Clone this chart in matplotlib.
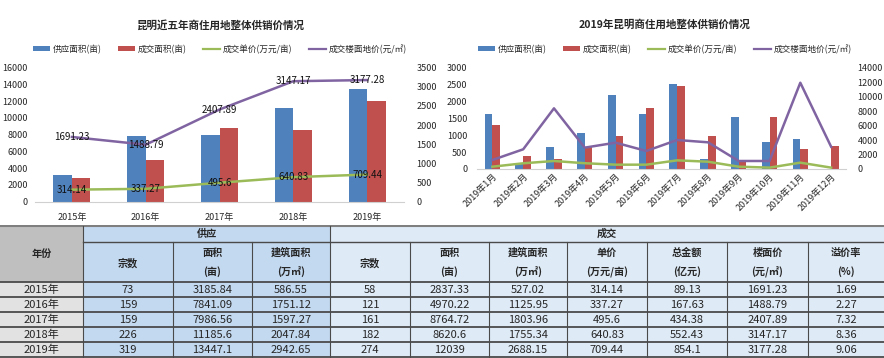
import numpy as np
import matplotlib
matplotlib.use("Agg")
import matplotlib.pyplot as plt
from matplotlib.patches import Rectangle, Patch
from matplotlib.lines import Line2D

plt.rcParams['font.family'] = ['Noto Sans CJK SC', 'DejaVu Sans']

# ---------------- data ----------------
years = ['2015年', '2016年', '2017年', '2018年', '2019年']
supply_count = [73, 159, 159, 226, 319]
supply_area = [3185.84, 7841.09, 7986.56, 11185.6, 13447.1]
supply_build = [586.55, 1751.12, 1597.27, 2047.84, 2942.65]
deal_count = [58, 121, 161, 182, 274]
deal_area = [2837.33, 4970.22, 8764.72, 8620.6, 12039]
deal_build = [527.02, 1125.95, 1803.96, 1755.34, 2688.15]
unit_price = [314.14, 337.27, 495.6, 640.83, 709.44]
total_amount = [89.13, 167.63, 434.38, 552.43, 854.1]
floor_price = [1691.23, 1488.79, 2407.89, 3147.17, 3177.28]
premium_rate = [1.69, 2.27, 7.32, 8.36, 9.06]

months = ['2019年%d月' % m for m in range(1, 13)]
m_supply = [1620, 170, 640, 1070, 2190, 1620, 2520, 290, 1550, 800, 900, 0]
m_deal = [1320, 400, 290, 640, 990, 1800, 2480, 970, 240, 1550, 600, 670]
m_unit = [320, 790, 1110, 800, 600, 600, 1200, 1010, 320, 190, 880, 190]
m_floor = [1250, 2730, 8410, 2960, 3650, 2500, 4020, 3700, 1110, 1110, 11960, 3090]

legend_labels = ['供应面积(亩)', '成交面积(亩)', '成交单价(万元/亩)', '成交楼面地价(元/㎡)']

BLUE = '#4f81bd'
RED = '#c0504d'
GREEN = '#9bbb59'
PURPLE = '#8064a2'
TXT = '#262626'

W, H = 884, 358
fig = plt.figure(figsize=(W / 100, H / 100), dpi=100)


def frac_axes(x0, x1, ytop, ybot):
    return fig.add_axes([x0 / W, 1 - ybot / H, (x1 - x0) / W, (ybot - ytop) / H])


def style_axes(ax, ax2):
    for a in (ax, ax2):
        for s in a.spines.values():
            s.set_visible(False)
        a.tick_params(length=0, labelsize=6.5, colors=TXT)
        a.set_facecolor('none')
    ax.spines['bottom'].set_visible(True)
    ax.spines['bottom'].set_color('#d0d0d0')


def legend_for(cx):
    handles = [Patch(facecolor=BLUE), Patch(facecolor=RED),
               Line2D([], [], color=GREEN, lw=1.6), Line2D([], [], color=PURPLE, lw=1.6)]
    fig.legend(handles, legend_labels, loc='center', bbox_to_anchor=(cx / W, 1 - 49 / H),
               ncol=4, frameon=False, fontsize=6.2, handlelength=2.0, handleheight=0.55,
               columnspacing=1.9, handletextpad=0.3, labelcolor=TXT)


# ---------------- left chart ----------------
ax = frac_axes(35, 404, 67.7, 201.7)
ax2 = ax.twinx()
x = np.arange(len(years))
ax.bar(x - 0.125, supply_area, width=0.25, color=BLUE)
ax.bar(x + 0.125, deal_area, width=0.25, color=RED)
ax.set_ylim(0, 16000)
ax.set_yticks(np.arange(0, 16001, 2000))
ax.set_xlim(-0.5, len(years) - 0.5)
ax.set_xticks(x)
ax.set_xticklabels(years)
ax2.plot(x, unit_price, color=GREEN, lw=1.8)
ax2.plot(x, floor_price, color=PURPLE, lw=1.8)
ax2.set_ylim(0, 3500)
ax2.set_yticks(np.arange(0, 3501, 500))
for xi, v in zip(x, unit_price):
    ax2.text(xi, v, '%g' % v, ha='center', va='center', fontsize=7, color='#111111')
for xi, v in zip(x, floor_price):
    ax2.text(xi, v, '%g' % v, ha='center', va='center', fontsize=7, color='#111111')
style_axes(ax, ax2)
ax.tick_params(axis='y', pad=5)
ax.tick_params(axis='x', pad=8)
ax2.tick_params(axis='y', pad=9)
fig.text(220 / W, 1 - 25 / H, '昆明近五年商住用地整体供销价情况', ha='center', va='center',
         fontsize=7.6, fontweight='bold', color=TXT)
legend_for(220)

# ---------------- right chart ----------------
bx = frac_axes(477, 846.5, 68, 169)
bx2 = bx.twinx()
xm = np.arange(len(months))
bx.bar(xm - 0.125, m_supply, width=0.25, color=BLUE)
bx.bar(xm + 0.125, m_deal, width=0.25, color=RED)
bx.set_ylim(0, 3000)
bx.set_yticks(np.arange(0, 3001, 500))
bx.set_xlim(-0.5, len(months) - 0.5)
bx.set_xticks(xm)
bx.set_xticklabels(months, rotation=45, ha='right', rotation_mode='anchor')
bx2.plot(xm, m_unit, color=GREEN, lw=1.8)
bx2.plot(xm, m_floor, color=PURPLE, lw=1.8)
bx2.set_ylim(0, 14000)
bx2.set_yticks(np.arange(0, 14001, 2000))
style_axes(bx, bx2)
bx.tick_params(axis='x', labelsize=6.5, pad=2)
bx.tick_params(axis='y', pad=7)
bx2.tick_params(axis='y', pad=8)
fig.text(665 / W, 1 - 25 / H, '2019年昆明商住用地整体供销价情况', ha='center', va='center',
         fontsize=7.6, fontweight='bold', color=TXT)
legend_for(665)

# ---------------- table ----------------
tx = fig.add_axes([0, 0, 1, (H - 225) / H])
tx.set_xlim(0, W)
tx.set_ylim(H, 225)
tx.axis('off')

cols = [0, 83, 173, 252, 330, 410, 489, 567, 647, 727, 808, 884]
rows = [226, 242, 282, 297, 312, 327, 342, 357]
GRAY_H = '#bfbfbf'
GRAY_D = '#e2e2e2'
BLUE_S = '#c3d9f0'
BLUE_D = '#deeaf6'
LINE = '#4a4a4a'


def cell(x0, x1, y0, y1, fc):
    tx.add_patch(Rectangle((x0, y0), x1 - x0, y1 - y0, facecolor=fc, edgecolor='none'))


# backgrounds
cell(cols[0], cols[1], rows[0], rows[2], GRAY_H)
cell(cols[1], cols[4], rows[0], rows[2], BLUE_S)
cell(cols[4], cols[11], rows[0], rows[2], BLUE_D)
for r in range(5):
    y0, y1 = rows[r + 2], rows[r + 3]
    cell(cols[0], cols[1], y0, y1, GRAY_D)
    cell(cols[1], cols[4], y0, y1, BLUE_S)
    cell(cols[4], cols[11], y0, y1, BLUE_D)

# header texts
hfs = 7.3
tx.text((cols[0] + cols[1]) / 2, (rows[0] + rows[2]) / 2, '年份', ha='center', va='center',
        fontsize=hfs, fontweight='bold', color=TXT)
tx.text((cols[1] + cols[4]) / 2, (rows[0] + rows[1]) / 2, '供应', ha='center', va='center',
        fontsize=hfs, fontweight='bold', color=TXT)
tx.text((cols[4] + cols[11]) / 2, (rows[0] + rows[1]) / 2, '成交', ha='center', va='center',
        fontsize=hfs, fontweight='bold', color=TXT)
sub_headers = [('宗数', None), ('面积', '(亩)'), ('建筑面积', '(万㎡)'),
               ('宗数', None), ('面积', '(亩)'), ('建筑面积', '(万㎡)'), ('单价', '(万元/亩)'),
               ('总金额', '(亿元)'), ('楼面价', '(元/㎡)'), ('溢价率', '(%)')]
for i, (a, b) in enumerate(sub_headers):
    cx = (cols[i + 1] + cols[i + 2]) / 2
    if b is None:
        tx.text(cx, (rows[1] + rows[2]) / 2 + 1, a, ha='center', va='center', fontsize=hfs,
                fontweight='bold', color=TXT)
    else:
        tx.text(cx, rows[1] + 11, a, ha='center', va='center', fontsize=hfs,
                fontweight='bold', color=TXT)
        tx.text(cx, rows[1] + 30, b, ha='center', va='center', fontsize=hfs,
                fontweight='bold', color=TXT)

# data texts
table_cols = [supply_count, supply_area, supply_build, deal_count, deal_area, deal_build,
              unit_price, total_amount, floor_price, premium_rate]
for r in range(5):
    cy = (rows[r + 2] + rows[r + 3]) / 2
    tx.text((cols[0] + cols[1]) / 2, cy, years[r], ha='center', va='center', fontsize=8,
            color=TXT)
    for c, data in enumerate(table_cols):
        tx.text((cols[c + 1] + cols[c + 2]) / 2, cy, '%g' % data[r], ha='center', va='center',
                fontsize=8, color=TXT)

# grid lines
tx.plot([0, W], [rows[0], rows[0]], color='#7f7f7f', lw=1.5)
tx.plot([cols[1], W], [rows[1], rows[1]], color=LINE, lw=1.0)
for y in rows[2:]:
    tx.plot([0, W], [y, y], color=LINE, lw=1.3)
tx.plot([cols[1], cols[1]], [rows[0], rows[-1]], color=LINE, lw=0.8)
tx.plot([cols[4], cols[4]], [rows[0], rows[-1]], color=LINE, lw=0.8)
for cxv in cols[2:4] + cols[5:11]:
    tx.plot([cxv, cxv], [rows[1], rows[-1]], color=LINE, lw=0.8)

fig.savefig('out.png', dpi=100)
